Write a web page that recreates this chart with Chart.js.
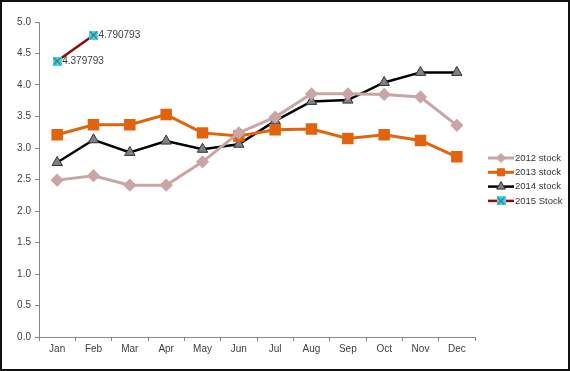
<!DOCTYPE html>
<html>
<head>
<meta charset="utf-8">
<script src="https://cdn.jsdelivr.net/npm/chart.js@4"></script>
<style>
  html, body { margin: 0; padding: 0; background: #fff; }
</style>
</head>
<body>
<canvas id="stockChart" width="570" height="371"></canvas>
<script>
// Данные
const months = ['Jan', 'Feb', 'Mar', 'Apr', 'May', 'Jun', 'Jul', 'Aug', 'Sep', 'Oct', 'Nov', 'Dec'];
const stock2012 = [2.49, 2.56, 2.41, 2.41, 2.78, 3.24, 3.49, 3.86, 3.86, 3.85, 3.81, 3.36];
const stock2013 = [3.21, 3.37, 3.37, 3.53, 3.24, 3.19, 3.29, 3.30, 3.15, 3.21, 3.12, 2.86];
const stock2014 = [2.77, 3.13, 2.93, 3.11, 2.98, 3.06, 3.43, 3.74, 3.76, 4.04, 4.20, 4.20];
const stock2015 = [4.379793, 4.790793];
const yTicks = [0, 0.5, 1.0, 1.5, 2.0, 2.5, 3.0, 3.5, 4.0, 4.5, 5.0];

const FONT = '"Liberation Sans", sans-serif';

// Маркер 2015: голубой квадрат с крестиком
function makeXMarker(size) {
    const c = document.createElement('canvas');
    c.width = size;
    c.height = size;
    const x = c.getContext('2d');
    x.fillStyle = '#4fd6dc';
    x.fillRect(0, 0, size, size);
    x.strokeStyle = '#1f7f8c';
    x.lineWidth = 1.3;
    x.beginPath();
    x.moveTo(1, 1); x.lineTo(size - 1, size - 1);
    x.moveTo(size - 1, 1); x.lineTo(1, size - 1);
    x.stroke();
    return c;
}
const xMarker = makeXMarker(9);

// Рамка вокруг всей картинки
const borderPlugin = {
    id: 'borderPlugin',
    afterDraw: (chart) => {
        const ctx = chart.ctx;
        ctx.save();
        ctx.strokeStyle = '#111';
        ctx.lineWidth = 2;
        ctx.strokeRect(1, 1, chart.width - 2, chart.height - 2);
        ctx.restore();
    }
};

// Подписи значений для 2015
const valueLabelPlugin = {
    id: 'valueLabelPlugin',
    afterDatasetsDraw: (chart) => {
        const ctx = chart.ctx;
        const meta = chart.getDatasetMeta(3);
        ctx.save();
        ctx.font = '10px ' + FONT;
        ctx.fillStyle = '#404040';
        ctx.textBaseline = 'middle';
        ctx.textAlign = 'left';
        meta.data.forEach((pt, i) => {
            ctx.fillText(String(stock2015[i]), pt.x + 5, pt.y);
        });
        ctx.restore();
    }
};

// Легенда справа: линия + маркер
const legendPlugin = {
    id: 'legendPlugin',
    afterDraw: (chart) => {
        const ctx = chart.ctx;
        ctx.save();
        chart.data.datasets.forEach((ds, i) => {
            const y = 158 + i * 14.3;
            ctx.strokeStyle = ds.borderColor;
            ctx.lineWidth = ds.borderWidth;
            ctx.beginPath();
            ctx.moveTo(488, y);
            ctx.lineTo(514, y);
            ctx.stroke();
            ctx.fillStyle = ds.pointBackgroundColor;
            ctx.strokeStyle = ds.pointBorderColor;
            ctx.lineWidth = 1;
            Chart.helpers.drawPoint(ctx, {
                pointStyle: ds.pointStyle,
                radius: Math.min(ds.pointRadius, 5),
                rotation: 0,
                borderWidth: 1
            }, 501, y);
            ctx.font = '9.5px ' + FONT;
            ctx.fillStyle = '#333';
            ctx.textBaseline = 'middle';
            ctx.fillText(ds.label, 515, y);
        });
        ctx.restore();
    }
};

const ctx = document.getElementById('stockChart').getContext('2d');
new Chart(ctx, {
    type: 'line',
    data: {
        labels: months,
        datasets: [
            {
                label: '2012 stock',
                data: stock2012,
                borderColor: '#c9a6a6',
                borderWidth: 3,
                pointStyle: 'rectRot',
                pointRadius: 4.5,
                pointBackgroundColor: '#c9a6a6',
                pointBorderColor: '#c9a6a6',
                tension: 0
            },
            {
                label: '2013 stock',
                data: stock2013,
                borderColor: '#e2630d',
                borderWidth: 3,
                pointStyle: 'rect',
                pointRadius: 6,
                pointBackgroundColor: '#e2630d',
                pointBorderColor: '#e2630d',
                tension: 0
            },
            {
                label: '2014 stock',
                data: stock2014,
                borderColor: '#000000',
                borderWidth: 2.5,
                pointStyle: 'triangle',
                pointRadius: 6,
                pointBackgroundColor: '#808080',
                pointBorderColor: '#333333',
                pointBorderWidth: 1,
                tension: 0
            },
            {
                label: '2015 Stock',
                data: stock2015,
                borderColor: '#8b0a0a',
                borderWidth: 2.5,
                pointStyle: xMarker,
                pointRadius: 5,
                pointBackgroundColor: '#4fd6dc',
                pointBorderColor: '#1f7f8c',
                tension: 0
            }
        ]
    },
    options: {
        responsive: false,
        animation: false,
        devicePixelRatio: 1,
        layout: {
            padding: { left: 0, right: 95, top: 22, bottom: 0 }
        },
        plugins: {
            legend: { display: false },
            tooltip: { enabled: false }
        },
        scales: {
            x: {
                offset: true,
                grid: {
                    display: true,
                    offset: true,
                    drawOnChartArea: false,
                    tickLength: 4,
                    color: '#868686'
                },
                border: { color: '#868686' },
                ticks: {
                    font: { size: 10, family: FONT },
                    color: '#404040',
                    padding: 2,
                    maxRotation: 0,
                    autoSkip: false
                },
                afterFit: (scale) => { scale.height = 34; }
            },
            y: {
                min: 0,
                max: 5,
                afterBuildTicks: (scale) => {
                    scale.ticks = yTicks.map(v => ({ value: v }));
                },
                grid: {
                    display: true,
                    drawOnChartArea: false,
                    tickLength: 4,
                    color: '#868686'
                },
                border: { color: '#868686' },
                ticks: {
                    font: { size: 10, family: FONT },
                    color: '#404040',
                    padding: 4,
                    callback: (v) => Number(v).toFixed(1)
                },
                afterFit: (scale) => { scale.width = 39; }
            }
        }
    },
    plugins: [borderPlugin, valueLabelPlugin, legendPlugin]
});
</script>
</body>
</html>
